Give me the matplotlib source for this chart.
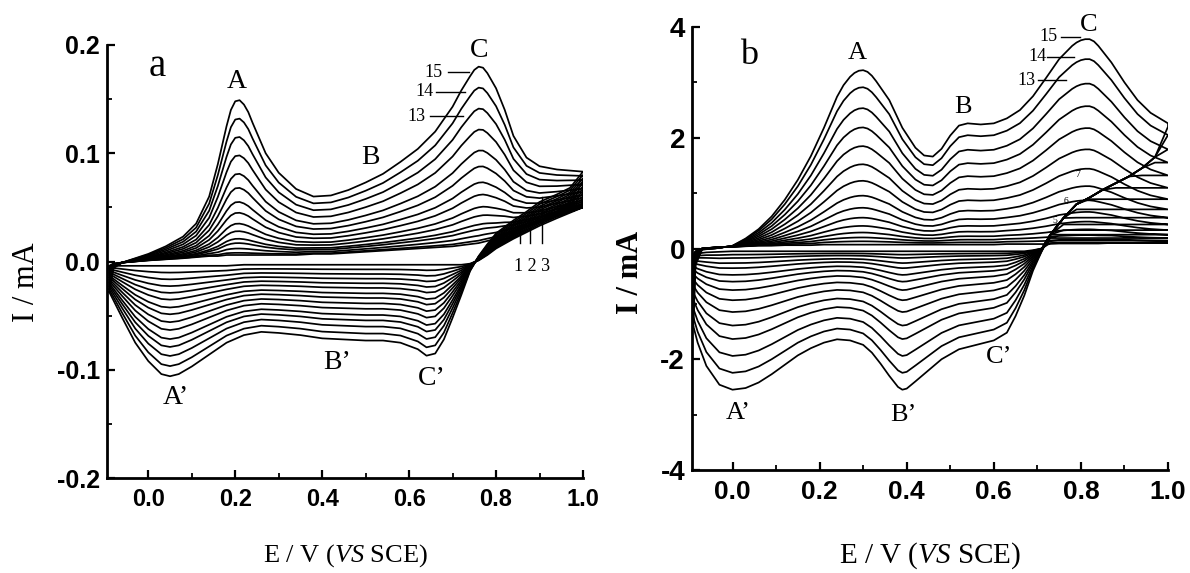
import numpy as np
import matplotlib
matplotlib.use("Agg")
import matplotlib.pyplot as plt
from matplotlib.ticker import MultipleLocator

plt.rcParams['font.family'] = ['Liberation Serif', 'DejaVu Serif']
plt.rcParams['mathtext.fontset'] = 'custom'
plt.rcParams['mathtext.rm'] = 'Liberation Serif'
plt.rcParams['mathtext.it'] = 'Liberation Serif:italic'
plt.rcParams['axes.unicode_minus'] = False

# ---------------- panel a (currents in mA) ----------------
# forward (anodic) scan, outermost cycle 15 and innermost cycle 1
E_a_fwd = [-0.09, -0.08, -0.06, -0.03, 0.00, 0.04, 0.08, 0.11, 0.14, 0.16,
           0.18, 0.19, 0.20, 0.21, 0.22, 0.23, 0.24,
           0.27, 0.30, 0.34, 0.38, 0.42, 0.46, 0.50, 0.54, 0.58, 0.62, 0.66, 0.70, 0.72,
           0.74, 0.75, 0.76, 0.77, 0.78,
           0.80, 0.82, 0.84, 0.87, 0.90, 0.94, 0.97, 1.00]
I_a_fwd_15 = [-0.028, -0.006, -0.001, 0.003, 0.007, 0.014, 0.023, 0.035, 0.060, 0.090,
              0.125, 0.140, 0.148, 0.149, 0.145, 0.138, 0.128,
              0.100, 0.082, 0.067, 0.060, 0.061, 0.066, 0.073, 0.081, 0.092, 0.104, 0.120, 0.143, 0.158,
              0.171, 0.177, 0.180, 0.179, 0.174,
              0.160, 0.140, 0.116, 0.096, 0.088, 0.085, 0.084, 0.083]
I_a_fwd_1 = [-0.004, -0.002, -0.001, 0.000, 0.001, 0.002, 0.003, 0.004, 0.005, 0.005,
             0.006, 0.006, 0.006, 0.006, 0.006, 0.006, 0.006,
             0.006, 0.006, 0.006, 0.007, 0.007, 0.008, 0.009, 0.010, 0.011, 0.012, 0.013, 0.014, 0.015,
             0.016, 0.0165, 0.017, 0.018, 0.019,
             0.021, 0.024, 0.027, 0.032, 0.036, 0.042, 0.046, 0.050]
# reverse (cathodic) scan
E_a_rev = [1.00, 0.97, 0.94, 0.90, 0.87, 0.84, 0.80, 0.78, 0.76, 0.74,
           0.72, 0.70, 0.68, 0.66, 0.64, 0.62, 0.58, 0.54, 0.50, 0.45,
           0.40, 0.35, 0.30, 0.26, 0.22, 0.18, 0.14, 0.10, 0.07, 0.05,
           0.03, 0.00, -0.03, -0.06, -0.09]
I_a_rev_15 = [0.083, 0.068, 0.062, 0.055, 0.046, 0.038, 0.026, 0.016, 0.005, -0.009,
              -0.031, -0.052, -0.072, -0.085, -0.087, -0.081, -0.075, -0.073, -0.073, -0.072,
              -0.071, -0.068, -0.066, -0.065, -0.068, -0.075, -0.086, -0.097, -0.104, -0.106,
              -0.104, -0.092, -0.075, -0.052, -0.028]
I_a_rev_1 = [0.050, 0.045, 0.040, 0.033, 0.027, 0.021, 0.012, 0.006, 0.001, -0.002,
             -0.003, -0.003, -0.003, -0.003, -0.003, -0.003, -0.003, -0.003, -0.003, -0.003,
             -0.003, -0.003, -0.003, -0.003, -0.003, -0.004, -0.004, -0.004, -0.004, -0.004,
             -0.004, -0.004, -0.004, -0.004, -0.004]
# peak currents of every cycle (1..15), peak A and peak A'
pk_a_fwd = [0.006, 0.008, 0.012, 0.017, 0.021, 0.028, 0.035, 0.045,
            0.055, 0.068, 0.081, 0.098, 0.115, 0.132, 0.149]
pk_a_rev = [-0.008, -0.014, -0.020, -0.026, -0.032, -0.038, -0.045, -0.051,
            -0.058, -0.065, -0.073, -0.080, -0.088, -0.097, -0.106]

# ---------------- panel b (currents in mA) ----------------
E_b_fwd = [-0.09, -0.085, -0.07, -0.04, 0.00, 0.03, 0.06, 0.09, 0.12, 0.15, 0.18, 0.21,
           0.24, 0.255, 0.27, 0.28, 0.29, 0.30, 0.31, 0.32, 0.33,
           0.36, 0.39, 0.42, 0.44, 0.46, 0.48, 0.50, 0.52, 0.54, 0.57, 0.60,
           0.63, 0.66, 0.69, 0.72, 0.75,
           0.78, 0.79, 0.80, 0.81, 0.82, 0.83, 0.84,
           0.87, 0.90, 0.93, 0.96, 1.00]
I_b_fwd_15 = [-1.40, -0.30, -0.02, 0.00, 0.05, 0.18, 0.35, 0.58, 0.88, 1.24, 1.67, 2.18,
              2.74, 2.95, 3.10, 3.17, 3.21, 3.22, 3.19, 3.12, 3.02,
              2.68, 2.18, 1.82, 1.68, 1.66, 1.80, 2.04, 2.22, 2.26, 2.24, 2.26,
              2.35, 2.50, 2.75, 3.08, 3.42,
              3.66, 3.72, 3.76, 3.78, 3.78, 3.74, 3.66,
              3.36, 3.00, 2.68, 2.45, 2.26]
I_b_fwd_1 = [-0.10, -0.05, 0.00, 0.02, 0.03, 0.04, 0.05, 0.05, 0.06, 0.06, 0.06, 0.07,
             0.07, 0.07, 0.07, 0.07, 0.07, 0.07, 0.07, 0.07, 0.07,
             0.07, 0.07, 0.07, 0.07, 0.07, 0.07, 0.07, 0.07, 0.07, 0.07, 0.07,
             0.08, 0.08, 0.08, 0.08, 0.09,
             0.09, 0.09, 0.09, 0.09, 0.09, 0.09, 0.09,
             0.10, 0.10, 0.10, 0.10, 0.10]
E_b_rev = [1.00, 0.97, 0.94, 0.91, 0.88, 0.85, 0.82, 0.79, 0.76, 0.73,
           0.71, 0.69, 0.67, 0.65, 0.63, 0.60, 0.56, 0.52, 0.48, 0.45,
           0.42, 0.40, 0.39, 0.38, 0.36, 0.34, 0.32, 0.30, 0.27, 0.24,
           0.21, 0.18, 0.15, 0.12, 0.09, 0.06, 0.03, 0.00, -0.03, -0.06,
           -0.08, -0.09]
I_b_rev_15 = [2.20, 1.65, 1.45, 1.30, 1.18, 1.06, 0.92, 0.80, 0.55, 0.25,
              -0.05, -0.40, -0.85, -1.22, -1.52, -1.66, -1.74, -1.82, -2.00, -2.20,
              -2.40, -2.53, -2.55, -2.50, -2.30, -2.08, -1.88, -1.74, -1.66, -1.64,
              -1.70, -1.80, -1.93, -2.10, -2.27, -2.42, -2.52, -2.55, -2.46, -2.12,
              -1.70, -1.40]
I_b_rev_1 = [0.10, 0.10, 0.10, 0.10, 0.10, 0.10, 0.09, 0.08, 0.06, 0.03,
             0.00, -0.03, -0.05, -0.05, -0.05, -0.05, -0.05, -0.05, -0.05, -0.05,
             -0.05, -0.05, -0.05, -0.05, -0.05, -0.05, -0.05, -0.05, -0.05, -0.05,
             -0.05, -0.05, -0.05, -0.05, -0.05, -0.05, -0.05, -0.05, -0.06, -0.07,
             -0.09, -0.10]
pk_b_fwd = [0.05, 0.11, 0.18, 0.27, 0.39, 0.54, 0.72, 0.94,
            1.21, 1.51, 1.84, 2.18, 2.53, 2.91, 3.22]
pk_b_rev = [-0.09, -0.15, -0.21, -0.30, -0.39, -0.51, -0.63, -0.78,
            -0.96, -1.17, -1.41, -1.65, -1.95, -2.25, -2.55]


def draw_cycles(ax, E_f, f1, f15, E_r, r1, r15, pk_f, pk_r, band_from=None):
    E_f, f1, f15 = np.array(E_f), np.array(f1), np.array(f15)
    E_r, r1, r15 = np.array(E_r), np.array(r1), np.array(r15)
    for k in range(len(pk_f)):
        wf = (pk_f[k] - pk_f[0]) / (pk_f[-1] - pk_f[0])
        wr = (pk_r[k] - pk_r[0]) / (pk_r[-1] - pk_r[0])
        fwd = f1 + wf * (f15 - f1)
        rev = r1 + wr * (r15 - r1)
        if band_from is not None:
            # return sweep runs flat until it meets the common band
            right = E_r > band_from
            rev[right] = np.minimum(fwd[-1], r15[right])
        ax.plot(np.concatenate([E_f, E_r]), np.concatenate([fwd, rev]),
                color='black', lw=1.25, solid_joinstyle='round')


def style_axes(ax, xlim, ylim, yticks, ylabels, yminor, fs):
    ax.set_xlim(*xlim)
    ax.set_ylim(*ylim)
    ax.spines[['top', 'right']].set_visible(False)
    for s in ('left', 'bottom'):
        ax.spines[s].set_linewidth(2.0)
    xt = [0.0, 0.2, 0.4, 0.6, 0.8, 1.0]
    ax.set_xticks(xt, labels=['0.0', '0.2', '0.4', '0.6', '0.8', '1.0'],
                  fontfamily='Liberation Sans', fontweight='bold', fontsize=fs)
    ax.set_yticks(yticks, labels=ylabels,
                  fontfamily='Liberation Sans', fontweight='bold', fontsize=fs + 1)
    ax.xaxis.set_minor_locator(MultipleLocator(0.1))
    ax.yaxis.set_minor_locator(MultipleLocator(yminor))
    ax.tick_params(which='major', direction='in', length=6, width=1.6)
    ax.tick_params(which='minor', direction='in', length=3.5, width=1.3)
    ax.tick_params(axis='x', pad=7)
    ax.tick_params(axis='y', pad=5)


fig = plt.figure(figsize=(11.9, 5.73), dpi=100)
W, H = 1190.0, 573.0

# ---------- a ----------
ax1 = fig.add_axes([107 / W, 1 - 478 / H, 476 / W, 433 / H])
draw_cycles(ax1, E_a_fwd, I_a_fwd_1, I_a_fwd_15, E_a_rev, I_a_rev_1, I_a_rev_15,
            pk_a_fwd, pk_a_rev)
style_axes(ax1, (-0.095, 1.0), (-0.2, 0.2), [-0.2, -0.1, 0.0, 0.1, 0.2],
           ['-0.2', '-0.1', '0.0', '0.1', '0.2'], 0.05, 17)

ax1.text(0.020, 0.180, 'a', fontsize=28, ha='center', va='center')
ax1.text(0.204, 0.166, 'A', fontsize=20, ha='center', va='center')
ax1.text(0.512, 0.096, 'B', fontsize=20, ha='center', va='center')
ax1.text(0.762, 0.195, 'C', fontsize=20, ha='center', va='center')
ax1.text(0.064, -0.126, 'A’', fontsize=20, ha='center', va='center')
ax1.text(0.434, -0.093, 'B’', fontsize=20, ha='center', va='center')
ax1.text(0.652, -0.108, 'C’', fontsize=20, ha='center', va='center')
for lab, ex, ey, x0, x1 in [('15', 0.657, 0.175, 0.689, 0.737),
                            ('14', 0.636, 0.157, 0.661, 0.728),
                            ('13', 0.618, 0.134, 0.648, 0.723)]:
    ax1.text(ex, ey, lab, fontsize=13, ha='center', va='center')
    ax1.plot([x0, x1], [ey, ey], color='black', lw=1.0)
ax1.text(0.882, -0.005, '1 2 3', fontsize=13, ha='center', va='center')
for lx, y1 in [(0.854, 0.032), (0.877, 0.036), (0.905, 0.060)]:
    ax1.plot([lx, lx], [0.017, y1], color='black', lw=1.0)

fig.text(26 / W, 1 - 282 / H, 'I / mA', rotation=90, fontsize=22,
         ha='center', va='center')
fig.text(345 / W, 1 - 556 / H, r'E / V ($\mathit{VS}$ SCE)', fontsize=19,
         ha='center', va='center')

# ---------- b ----------
ax2 = fig.add_axes([692 / W, 1 - 470 / H, 476 / W, 443 / H])
draw_cycles(ax2, E_b_fwd, I_b_fwd_1, I_b_fwd_15, E_b_rev, I_b_rev_1, I_b_rev_15,
            pk_b_fwd, pk_b_rev, band_from=0.71)
style_axes(ax2, (-0.093, 1.0), (-4, 4), [-4, -2, 0, 2, 4],
           ['-4', '-2', '0', '2', '4'], 1, 19)

ax2.text(0.037, 3.49, 'b', fontsize=26, ha='center', va='center')
ax2.text(0.287, 3.53, 'A', fontsize=19, ha='center', va='center')
ax2.text(0.529, 2.55, 'B', fontsize=19, ha='center', va='center')
ax2.text(0.818, 4.03, 'C', fontsize=19, ha='center', va='center')
ax2.text(0.014, -2.97, 'A’', fontsize=19, ha='center', va='center')
ax2.text(0.393, -3.00, 'B’', fontsize=19, ha='center', va='center')
ax2.text(0.611, -1.96, 'C’', fontsize=19, ha='center', va='center')
for lab, ex, ey, x0, x1 in [('15', 0.726, 3.82, 0.754, 0.798),
                            ('14', 0.701, 3.46, 0.722, 0.784),
                            ('13', 0.674, 3.04, 0.701, 0.766)]:
    ax2.text(ex, ey, lab, fontsize=13, ha='center', va='center')
    ax2.plot([x0, x1], [ey, ey], color='black', lw=1.0)
for lab, ex, ey in [('5', 0.740, 0.51), ('6', 0.766, 0.84), ('7', 0.793, 1.33)]:
    ax2.text(ex, ey, lab, fontsize=7, ha='center', va='center')

fig.text(630 / W, 1 - 272 / H, 'I / mA', rotation=90, fontsize=22,
         fontweight='bold', ha='center', va='center')
fig.text(930 / W, 1 - 556 / H, r'E / V ($\mathit{VS}$ SCE)', fontsize=21,
         ha='center', va='center')

fig.savefig('out.png', dpi=100, facecolor='white')
